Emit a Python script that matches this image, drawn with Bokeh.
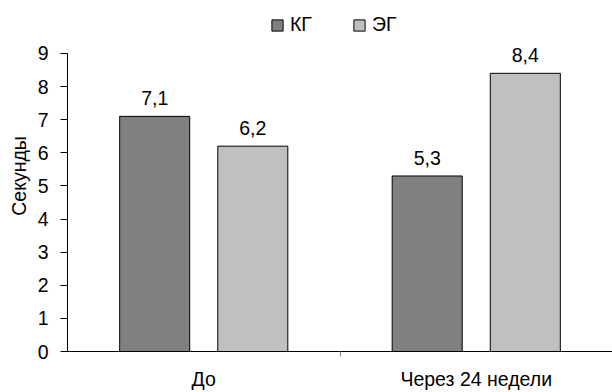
from bokeh.plotting import figure
from bokeh.models import (ColumnDataSource, FixedTicker, Legend, LegendItem, Range1d)
from bokeh.core.properties import value
from bokeh.embed import file_html
from bokeh.resources import INLINE

# ---- data ----
categories = ["До", "Через 24 недели"]
series_names = ["КГ", "ЭГ"]
kg_values = [7.1, 5.3]
eg_values = [6.2, 8.4]
y_ticks = [0, 1, 2, 3, 4, 5, 6, 7, 8, 9]
y_title = "Секунды"

FONT = "Liberation Sans"
FS = "19.5px"
KG_COLOR = "#808080"
EG_COLOR = "#C0C0C0"

W, H = 612, 392
LEFT, BOTTOM, TOP_AXIS_PX = 67, 34, 54   # layout in pixels

idx = [i + 0.5 for i in range(len(categories))]
offset = 0.18
bar_w = 0.257

def fmt(v):
    return f"{v:.1f}".replace(".", ",")

src_kg = ColumnDataSource(dict(x=[c - offset for c in idx], top=kg_values,
                               lbl=[fmt(v) for v in kg_values]))
src_eg = ColumnDataSource(dict(x=[c + offset for c in idx], top=eg_values,
                               lbl=[fmt(v) for v in eg_values]))

# frame runs to the top edge so that the legend fits inside it;
# the y range end is chosen so that the top tick sits TOP_AXIS_PX from the top
frame_h = H - BOTTOM
y_max = y_ticks[-1] * frame_h / (frame_h - TOP_AXIS_PX)

p = figure(width=W, height=H, output_backend="svg", toolbar_location=None,
           x_range=Range1d(0, len(categories)), y_range=Range1d(y_ticks[0], y_max),
           min_border_left=LEFT, min_border_right=0, min_border_top=0,
           min_border_bottom=BOTTOM)
p.outline_line_color = None
p.xgrid.visible = False
p.ygrid.visible = False
p.background_fill_color = "white"
p.border_fill_color = "white"

r_kg = p.vbar(x="x", top="top", width=bar_w, bottom=0, source=src_kg,
              fill_color=KG_COLOR, line_color="black", line_width=1)
r_eg = p.vbar(x="x", top="top", width=bar_w, bottom=0, source=src_eg,
              fill_color=EG_COLOR, line_color="black", line_width=1)

for s in (src_kg, src_eg):
    p.text(x="x", y="top", text="lbl", source=s, text_align="center",
           text_baseline="alphabetic", y_offset=-18,
           text_font=value(FONT), text_font_size=FS, text_color="black")

# x axis
xa = p.xaxis[0]
xa.ticker = FixedTicker(ticks=idx, minor_ticks=[1.0])
xa.major_label_overrides = {c: lab for c, lab in zip(idx, categories)}
xa.major_tick_out = 0
xa.major_tick_in = 0
xa.minor_tick_out = 5
xa.minor_tick_in = 0
xa.minor_tick_line_color = "#808080"
xa.axis_line_color = "black"
xa.major_label_standoff = 11
xa.major_label_text_font = FONT
xa.major_label_text_font_size = FS
xa.major_label_text_color = "black"

# y axis
ya = p.yaxis[0]
ya.ticker = FixedTicker(ticks=y_ticks)
ya.bounds = (y_ticks[0], y_ticks[-1])
ya.major_tick_out = 7
ya.major_tick_in = 0
ya.minor_tick_line_color = None
ya.axis_line_color = "black"
ya.major_tick_line_color = "black"
ya.major_label_standoff = 12
ya.major_label_text_font = FONT
ya.major_label_text_font_size = FS
ya.major_label_text_color = "black"
ya.axis_label = y_title
ya.axis_label_standoff = 5
ya.axis_label_text_font = FONT
ya.axis_label_text_font_size = FS
ya.axis_label_text_font_style = "normal"
ya.axis_label_text_color = "black"

legend = Legend(items=[LegendItem(label=series_names[0], renderers=[r_kg]),
                       LegendItem(label=series_names[1], renderers=[r_eg])],
                orientation="horizontal", location=(203, 315),
                glyph_width=14, glyph_height=14, label_standoff=6, spacing=40,
                padding=0, margin=0, border_line_color=None,
                background_fill_alpha=0, label_text_font=FONT,
                label_text_font_size=FS, label_text_color="black")
p.add_layout(legend, "center")

open("out.html", "w").write(file_html(p, INLINE))
